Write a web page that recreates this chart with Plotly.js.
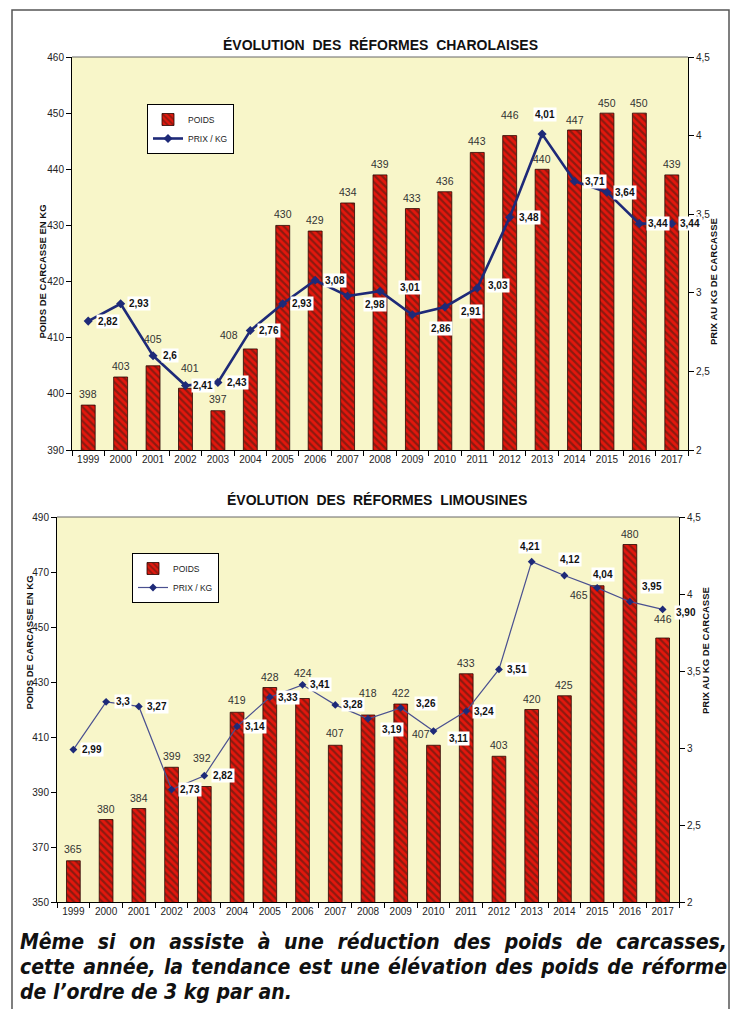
<!DOCTYPE html>
<html>
<head>
<meta charset="utf-8">
<script src="https://cdn.plot.ly/plotly-3.0.1.min.js"></script>
<style>
  html, body { margin:0; padding:0; background:#fff; }
  #wrap { position:relative; width:734px; height:1009px; overflow:hidden; }
  #chart { position:absolute; left:0; top:0; width:734px; height:1009px; }
  #caption { position:absolute; left:20px; top:930px; width:707px;
    font-family:"Liberation Sans Narrow","DejaVu Sans Condensed","Liberation Sans",sans-serif;
    font-weight:bold; font-style:italic; font-size:21px; line-height:25px; color:#111; }
  #caption div { text-align:justify; text-align-last:justify; white-space:nowrap; }
  #caption div.last { text-align-last:left; }
</style>
</head>
<body>
<div id="wrap">
<div id="chart"></div>
<div id="caption"></div>
</div>
<script>
// ---------- DATA ----------
const years = ["1999","2000","2001","2002","2003","2004","2005","2006","2007","2008","2009","2010","2011","2012","2013","2014","2015","2016","2017"];

const charolaisPoids = [398,403,405,401,397,408,430,429,434,439,433,436,443,446,440,447,450,450,439];
const charolaisPrix  = [2.82,2.93,2.6,2.41,2.43,2.76,2.93,3.08,2.98,3.01,2.86,2.91,3.03,3.48,4.01,3.71,3.64,3.44,3.44];
const charolaisPrixLabels = ["2,82","2,93","2,6","2,41","2,43","2,76","2,93","3,08","2,98","3,01","2,86","2,91","3,03","3,48","4,01","3,71","3,64","3,44","3,44"];

const limousinPoids = [365,380,384,399,392,419,428,424,407,418,422,407,433,403,420,425,465,480,446];
const limousinPrix  = [2.99,3.3,3.27,2.73,2.82,3.14,3.33,3.41,3.28,3.19,3.26,3.11,3.24,3.51,4.21,4.12,4.04,3.95,3.90];
const limousinPrixLabels = ["2,99","3,3","3,27","2,73","2,82","3,14","3,33","3,41","3,28","3,19","3,26","3,11","3,24","3,51","4,21","4,12","4,04","3,95","3,90"];

const titleTop = "ÉVOLUTION  DES  RÉFORMES  CHAROLAISES";
const titleBottom = "ÉVOLUTION  DES  RÉFORMES  LIMOUSINES";
const leftTitle = "POIDS DE CARCASSE EN KG";
const rightTitle = "PRIX AU KG DE CARCASSE";
const captionLines = [
  "Même si on assiste à une réduction des poids de carcasses,",
  "cette année, la tendance est une élévation des poids de réforme",
  "de l’ordre de 3 kg par an."
];

// ---------- LABEL OFFSETS (pixels: dx right, dy down) ----------
const topBarDX = [0,0,0,5,0,-21,0,0,0,0,0,0,0,0,0,0,0,0,0];
const topBarDY = [-11,-11,-27,-20,-12,-14,-11,-11,-11,-11,-11,-11,-11,-21,-10,-10,-10,-10,-11];
const topPrixDX = [20,18,17,18,19,19,19,20,27,30,29,26,21,19,3,20,18,19,18];
const topPrixDY = [0,0,0,0,0,0,0,0,9,-4,14,5,-3,0,-20,0,0,0,0];

const botBarDX = [0,0,0,0,-2,0,0,0,0,0,0,-12,0,0,0,0,-18,0,0];
const botBarDY = [-12,-11,-11,-11,-29,-12,-11,-26,-12,-22,-11,-11,-11,-11,-11,-11,9,-11,-19];
const botPrixDX = [19,17,18,18,19,18,18,17,18,24,25,25,18,18,-2,6,6,22,23];
const botPrixDY = [0,0,0,0,0,0,0,0,0,11,-4,7,0,0,-15,-16,-13,-15,3];

// ---------- CAPTION ----------
const cap = document.getElementById('caption');
captionLines.forEach((t, i) => {
  const d = document.createElement('div');
  d.textContent = t;
  if (i === captionLines.length - 1) d.className = 'last';
  cap.appendChild(d);
});

// ---------- HELPERS ----------
const W = 734, H = 1009;
const px = v => v / W;
const py = v => 1 - v / H;
const FONT = "Liberation Sans, Arial, sans-serif";

const barMarker = {
  color: '#e3170d',
  line: { color: '#2a0500', width: 0.8 },
  pattern: { shape: '\\', fgcolor: '#8c1a10', bgcolor: '#e3170d', size: 5, solidity: 0.45, fillmode: 'replace' }
};

const traces = [
  { type:'bar', x: years, y: charolaisPoids, xaxis:'x', yaxis:'y', name:'POIDS', width:0.43,
    marker: barMarker, legend:'legend' },
  { type:'scatter', mode:'lines+markers', x: years, y: charolaisPrix, xaxis:'x', yaxis:'y2', name:'PRIX / KG',
    line:{ color:'#1e2a78', width:2.6 }, marker:{ symbol:'diamond', size:7, color:'#1e2a78' }, legend:'legend' },
  { type:'bar', x: years, y: limousinPoids, xaxis:'x2', yaxis:'y3', name:'POIDS', width:0.42,
    marker: barMarker, legend:'legend2' },
  { type:'scatter', mode:'lines+markers', x: years, y: limousinPrix, xaxis:'x2', yaxis:'y4', name:'PRIX / KG',
    line:{ color:'#4a5090', width:1.2 }, marker:{ symbol:'diamond', size:6, color:'#1e2a78' }, legend:'legend2' }
];

const annotations = [];
function addBarLabels(vals, xref, yref, dx, dy) {
  vals.forEach((v, i) => annotations.push({
    x: i, y: v, xref: xref, yref: yref, text: String(v), showarrow: false,
    xshift: dx[i], yshift: -dy[i], font: { family: FONT, size: 10.5, color: '#333' }
  }));
}
function addPrixLabels(vals, labels, xref, yref, dx, dy) {
  vals.forEach((v, i) => annotations.push({
    x: i, y: v, xref: xref, yref: yref, text: labels[i], showarrow: false,
    xshift: dx[i], yshift: -dy[i], bgcolor: '#ffffff', borderpad: 1,
    font: { family: FONT, size: 10, color: '#111', weight: 'bold' }
  }));
}
addBarLabels(charolaisPoids, 'x', 'y', topBarDX, topBarDY);
addPrixLabels(charolaisPrix, charolaisPrixLabels, 'x', 'y2', topPrixDX, topPrixDY);
addBarLabels(limousinPoids, 'x2', 'y3', botBarDX, botBarDY);
addPrixLabels(limousinPrix, limousinPrixLabels, 'x2', 'y4', botPrixDX, botPrixDY);

// titles
annotations.push({ xref:'paper', yref:'paper', x: px(381), y: py(35), text: titleTop, showarrow:false,
  font:{ family:FONT, size:14, color:'#111', weight:'bold' } });
annotations.push({ xref:'paper', yref:'paper', x: px(377), y: py(500), text: titleBottom, showarrow:false,
  font:{ family:FONT, size:14, color:'#111', weight:'bold' } });
// axis titles
const axT = (x, y, t) => ({ xref:'paper', yref:'paper', x: px(x), y: py(y), text: t, textangle: -90, showarrow:false,
  font:{ family:FONT, size:9.5, color:'#111', weight:'bold' } });
annotations.push(axT(34, 203, leftTitle));
annotations.push(axT(721, 216, rightTitle));
annotations.push(axT(21, 712, leftTitle));
annotations.push(axT(713, 716, rightTitle));

const tickFont = { family: FONT, size: 10, color: '#222' };
const xCommon = { type:'category', range:[-0.5, years.length - 0.5], autorange:false,
  showline:true, linecolor:'#000', linewidth:1, mirror:false,
  ticks:'outside', ticklen:5, tickcolor:'#000', tickson:'boundaries', tickfont: tickFont, tickangle:0,
  showgrid:false, zeroline:false, fixedrange:true };
const yCommon = { showline:true, linecolor:'#000', linewidth:1, ticks:'outside', ticklen:5, tickcolor:'#000',
  tickfont: tickFont, showgrid:false, zeroline:false, fixedrange:true, autorange:false, tickmode:'linear' };

const layout = {
  width: W, height: H,
  margin: { l:0, r:0, t:0, b:0 },
  paper_bgcolor: '#ffffff',
  plot_bgcolor: '#f8f6c9',
  separators: ', ',
  showlegend: true,
  xaxis: Object.assign({}, xCommon, { domain:[px(72), px(688)], anchor:'y' }),
  yaxis: Object.assign({}, yCommon, { domain:[py(450), py(57)], range:[390,460], tick0:390, dtick:10, anchor:'x' }),
  yaxis2: Object.assign({}, yCommon, { overlaying:'y', side:'right', range:[2,4.5], tick0:2, dtick:0.5, anchor:'x' }),
  xaxis2: Object.assign({}, xCommon, { domain:[px(57), px(679)], anchor:'y3' }),
  yaxis3: Object.assign({}, yCommon, { domain:[py(902), py(517)], range:[350,490], tick0:350, dtick:20, anchor:'x2' }),
  yaxis4: Object.assign({}, yCommon, { overlaying:'y3', side:'right', range:[2,4.5], tick0:2, dtick:0.5, anchor:'x2' }),
  legend: { x: px(147), y: py(104), xanchor:'left', yanchor:'top', bgcolor:'#ffffff', bordercolor:'#000',
    borderwidth:1, font:{ family:FONT, size:8.5, color:'#222' }, itemwidth:30, tracegroupgap:0 },
  legend2: { x: px(132), y: py(553), xanchor:'left', yanchor:'top', bgcolor:'#ffffff', bordercolor:'#000',
    borderwidth:1, font:{ family:FONT, size:8.5, color:'#222' }, itemwidth:30, tracegroupgap:0 },
  shapes: [
    { type:'rect', xref:'paper', yref:'paper', x0: px(12), x1: px(729), y0: -0.05, y1: py(10),
      line:{ color:'#555', width:1.5 }, fillcolor:'rgba(0,0,0,0)', layer:'below' },
    { type:'line', xref:'paper', yref:'paper', x0: px(72), x1: px(688), y0: py(57), y1: py(57),
      line:{ color:'#666', width:1 } },
    { type:'line', xref:'paper', yref:'paper', x0: px(57), x1: px(679), y0: py(517), y1: py(517),
      line:{ color:'#666', width:1 } }
  ],
  annotations: annotations
};

Plotly.newPlot('chart', traces, layout, { staticPlot: true, displayModeBar: false });
</script>
</body>
</html>
